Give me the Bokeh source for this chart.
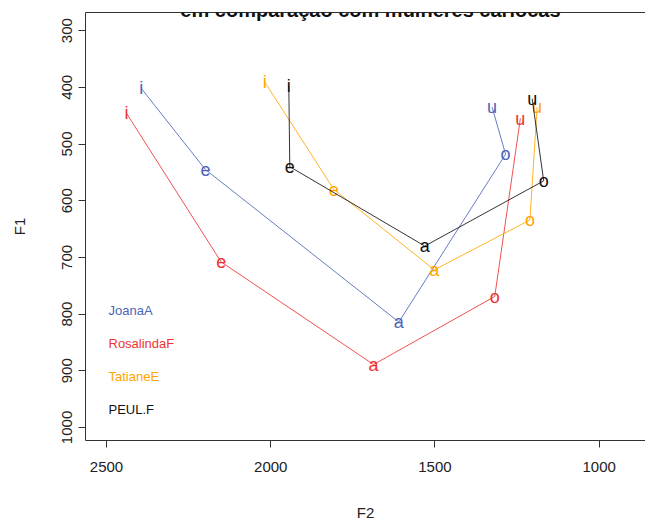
from bokeh.plotting import figure
from bokeh.models import Range1d, LinearAxis, FixedTicker, Label, ColumnDataSource
from bokeh.core.properties import value
from bokeh.embed import file_html
from bokeh.resources import INLINE

vowels = ["i", "e", "a", "o", "u"]
speakers = ["JoanaA", "RosalindaF", "TatianeE", "PEUL.F"]
colors = ["#4B65B8", "#EE3333", "#FFA500", "#111111"]

F2_joana = [2394, 2199, 1610, 1285, 1326]
F1_joana = [402, 545, 814, 518, 435]
F2_rosalinda = [2439, 2151, 1687, 1318, 1240]
F1_rosalinda = [446, 708, 889, 769, 455]
F2_tatiane = [2018, 1808, 1502, 1211, 1189]
F1_tatiane = [391, 580, 722, 634, 435]
F2_peul = [1945, 1942, 1531, 1169, 1204]
F1_peul = [397, 540, 680, 565, 420]

x_ticks = [2500, 2000, 1500, 1000]
y_ticks = [300, 400, 500, 600, 700, 800, 900, 1000]

title_text = "em comparação com mulheres cariocas"

F2_all = [F2_joana, F2_rosalinda, F2_tatiane, F2_peul]
F1_all = [F1_joana, F1_rosalinda, F1_tatiane, F1_peul]

FONT = "Liberation Sans"

p = figure(width=645, height=523, output_backend="svg", toolbar_location=None,
           x_range=Range1d(2564, 859), y_range=Range1d(1023, 268),
           min_border_left=85, min_border_right=0, min_border_top=12, min_border_bottom=80)
p.xaxis.visible = False
p.yaxis.visible = False
p.grid.visible = False
p.outline_line_color = None
p.background_fill_color = "white"
p.border_fill_color = "white"

xax = LinearAxis(ticker=FixedTicker(ticks=x_ticks), axis_label="F2")
yax = LinearAxis(ticker=FixedTicker(ticks=y_ticks), axis_label="F1")
top = LinearAxis(ticker=FixedTicker(ticks=[]), major_label_text_font_size="0px")
for ax in (xax, yax, top):
    ax.axis_line_color = "#333333"
    ax.axis_line_width = 1
    ax.major_tick_line_color = "#333333"
    ax.major_tick_in = 0
    ax.major_tick_out = 7
    ax.minor_tick_line_color = None
    ax.major_label_text_font = FONT
    ax.major_label_text_font_size = "15px"
    ax.major_label_text_color = "#222222"
    ax.axis_label_text_font = FONT
    ax.axis_label_text_font_size = "15px"
    ax.axis_label_text_font_style = "normal"
    ax.axis_label_text_color = "#222222"
top.major_tick_out = 0
xax.major_label_standoff = 14
xax.axis_label_standoff = 29
yax.major_label_orientation = "vertical"
yax.major_label_standoff = 6
yax.axis_label_standoff = 32
p.add_layout(xax, "below")
p.add_layout(yax, "left")
p.add_layout(top, "above")

for name, col, xs, ys in zip(speakers, colors, F2_all, F1_all):
    src = ColumnDataSource(dict(x=xs, y=ys, t=vowels))
    p.line("x", "y", source=src, line_color=col, line_width=1, line_alpha=0.85)
    p.text("x", "y", text="t", source=src, text_color=col,
           text_font=value(FONT), text_font_size="18px",
           text_align="center", text_baseline="middle")

# legend (text only, coloured like R's legend with text.col)
leg_x = 2494
leg_y = [794, 852, 910, 968]
for name, col, ly in zip(speakers, colors, leg_y):
    p.add_layout(Label(x=leg_x, y=ly, text=name, text_color=col,
                       text_font=FONT, text_font_size="13px",
                       text_align="left", text_baseline="middle"))

# title (cut off at the top as in the reference)
p.add_layout(Label(x=(2564 + 829) / 2, y=264, text=title_text,
                   text_font=FONT, text_font_size="20px", text_font_style="bold",
                   text_color="#111111", text_align="center", text_baseline="alphabetic"))

open("out.html", "w").write(file_html(p, INLINE))
